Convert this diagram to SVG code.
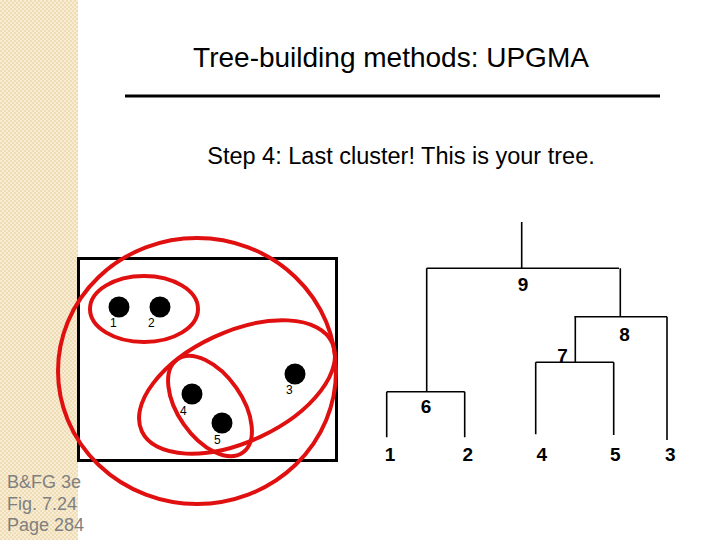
<svg xmlns="http://www.w3.org/2000/svg" width="720" height="540" viewBox="0 0 720 540">
<defs>
<pattern id="chk" width="4" height="4" patternUnits="userSpaceOnUse">
<rect width="4" height="4" fill="#EFDDB6"/>
<rect width="2" height="2" fill="#F8ECD4"/>
<rect x="2" y="2" width="2" height="2" fill="#F8ECD4"/>
</pattern>
<style>
.t{font-family:"Liberation Sans",Arial,sans-serif;fill:#000}
.side{font-family:"Liberation Sans",Arial,sans-serif;font-size:18px;fill:#7F7F7F}
.red{fill:none;stroke:#E01010;stroke-width:4}
.dot{fill:#000}
.pl{font-family:"Liberation Sans",Arial,sans-serif;font-size:12px;fill:#000}
.tr{fill:none;stroke:#000;stroke-width:1.6}
.tl{font-family:"Liberation Sans",Arial,sans-serif;font-size:19px;font-weight:bold;fill:#000;text-anchor:middle}
</style>
</defs>
<rect width="720" height="540" fill="#fff"/>
<rect x="0" y="0" width="78" height="540" fill="url(#chk)"/>
<g id="title">
<text class="t" x="391" y="67" font-size="28" text-anchor="middle">Tree-building methods: UPGMA</text>
<line x1="125" y1="96" x2="660" y2="96" stroke="#000" stroke-width="3"/>
<text class="t" x="401" y="164" font-size="23.5" text-anchor="middle">Step 4: Last cluster! This is your tree.</text>
</g>
<g id="credit">
<text class="side" x="7" y="488">B&amp;FG 3e</text>
<text class="side" x="7" y="510">Fig. 7.24</text>
<text class="side" x="7" y="531">Page 284</text>
</g>
<g id="plot">
<rect x="78.5" y="258.5" width="258" height="202" fill="none" stroke="#000" stroke-width="3"/>
<g id="p1"><circle class="dot" cx="119" cy="307" r="10.5"/><text class="pl" x="110" y="327">1</text></g>
<g id="p2"><circle class="dot" cx="160" cy="307" r="10.5"/><text class="pl" x="148" y="327">2</text></g>
<g id="p3"><circle class="dot" cx="295" cy="374" r="10.5"/><text class="pl" x="286" y="394">3</text></g>
<g id="p4"><circle class="dot" cx="192" cy="394" r="10.5"/><text class="pl" x="180" y="415">4</text></g>
<g id="p5"><circle class="dot" cx="222" cy="423" r="10.5"/><text class="pl" x="214" y="444">5</text></g>
</g>
<g id="clusters">
<ellipse class="red" cx="144" cy="309" rx="54" ry="33"/>
<ellipse class="red" cx="210" cy="406" rx="57" ry="32" transform="rotate(55 210 406)"/>
<ellipse class="red" cx="237" cy="387" rx="105" ry="55" transform="rotate(-25 237 387)"/>
<ellipse class="red" cx="197" cy="371" rx="139" ry="133"/>
</g>
<g id="tree">
<path class="tr" d="M521.7 222 V268.3 M426.7 268.3 H619 M426.7 268.3 V391.7 M620.3 268.3 V316.7 M574.3 316.7 H667 M575.3 316.7 V362.3 M667 316.7 V440 M535.7 362.3 H613.7 M535.7 362.3 V434.3 M613.7 362.3 V435 M386.7 391.7 H464.7 M386.7 391.7 V437.3 M464.7 391.7 V437.3"/>
<text class="tl" x="523" y="291">9</text>
<text class="tl" x="624.5" y="341">8</text>
<text class="tl" x="562.5" y="362">7</text>
<text class="tl" x="426" y="413">6</text>
<text class="tl" x="390" y="461">1</text>
<text class="tl" x="467.7" y="461">2</text>
<text class="tl" x="541.7" y="461">4</text>
<text class="tl" x="615.3" y="461">5</text>
<text class="tl" x="670.3" y="461">3</text>
</g>
</svg>
